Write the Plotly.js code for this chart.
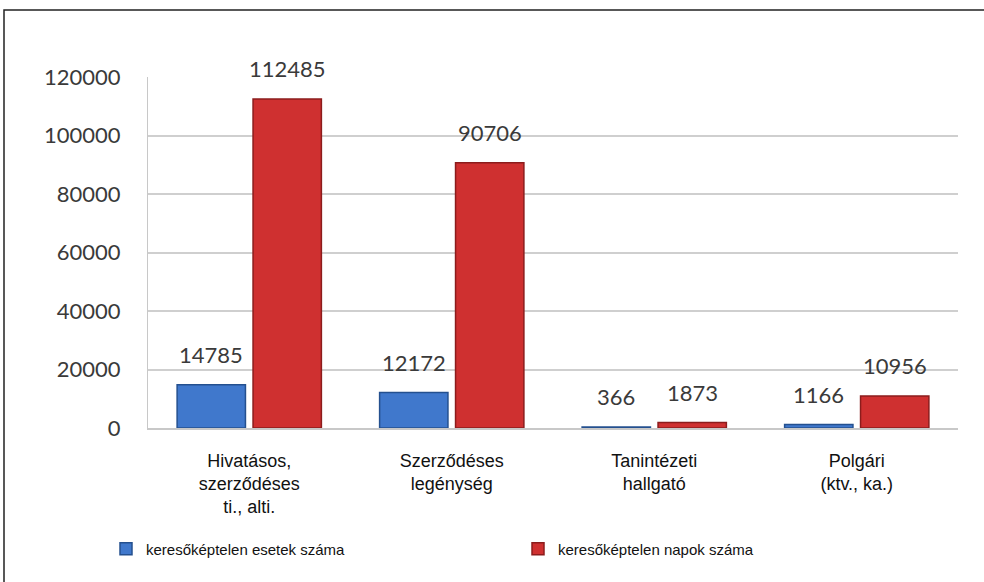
<!DOCTYPE html>
<html>
<head>
<meta charset="utf-8">
<script src="https://cdn.plot.ly/plotly-3.0.1.min.js"></script>
<style>html,body{margin:0;padding:0;background:#fff;}#chart{width:984px;height:582px;}</style>
</head>
<body>
<div id="chart"></div>
<script>
const categories = ["Hivatásos,<br>szerződéses<br>ti., alti.", "Szerződéses<br>legénység", "Tanintézeti<br>hallgató", "Polgári<br>(ktv., ka.)"];
const seriesNames = ["keresőképtelen esetek száma", "keresőképtelen napok száma"];
const esetek = [14785, 12172, 366, 1166];
const napok = [112485, 90706, 1873, 10956];
const yTicks = [0, 20000, 40000, 60000, 80000, 100000, 120000];

const W = 984, H = 582;
const m = {l: 148, r: 26, t: 77, b: 154};
const plotW = W - m.l - m.r, plotH = H - m.t - m.b;
const px = v => (v - m.l) / plotW;
const py = v => (H - m.b - v) / plotH;

const bargap = 0.25, bargroupgap = 0.1;
const slot = plotW / categories.length;
const half = slot * (1 - bargap) / 4;

const labelFont = {family: "Lato, 'Open Sans', sans-serif", size: 22, color: "#3a3a3a"};

const traces = [
  {type: "bar", name: seriesNames[0], x: categories, y: esetek,
   marker: {color: "#4078cc", line: {color: "#24508f", width: 1.5}}},
  {type: "bar", name: seriesNames[1], x: categories, y: napok,
   marker: {color: "#cf3030", line: {color: "#8c1c1c", width: 1.5}}}
];

const annotations = [];
[esetek, napok].forEach((arr, si) => {
  arr.forEach((v, i) => {
    annotations.push({x: categories[i], y: v, xref: "x", yref: "y", text: String(v),
      showarrow: false, xshift: si === 0 ? -half : half, yshift: 30,
      font: labelFont, xanchor: "center", yanchor: "middle"});
  });
});

const layout = {
  width: W, height: H,
  margin: m,
  paper_bgcolor: "#fff", plot_bgcolor: "#fff",
  barmode: "group", bargap: bargap, bargroupgap: bargroupgap,
  showlegend: true,
  legend: {orientation: "h", x: px(106), y: py(549), xanchor: "left", yanchor: "middle",
    entrywidth: 367, entrywidthmode: "pixels",
    font: {family: "'Liberation Sans', Arial, sans-serif", size: 15, color: "#111"}},
  xaxis: {type: "category", showgrid: false, showline: true, linecolor: "#c8c8c8", linewidth: 2,
    ticks: "", ticklabelstandoff: 15,
    tickfont: {family: "'Liberation Sans', Arial, sans-serif", size: 18, color: "#111"}},
  yaxis: {range: [0, 120000], tickvals: yTicks, ticktext: yTicks.map(String),
    showgrid: true, gridcolor: "#cfcfcf", gridwidth: 2, zeroline: false,
    showline: true, linecolor: "#c8c8c8", linewidth: 1, ticks: "", ticklabelstandoff: 22,
    tickfont: labelFont},
  annotations: annotations,
  shapes: [{type: "rect", xref: "paper", yref: "paper",
    x0: px(4), x1: px(995), y0: py(595), y1: py(10),
    line: {color: "#222", width: 1.5}, fillcolor: "rgba(0,0,0,0)", layer: "below"}]
};

Plotly.newPlot("chart", traces, layout, {displayModeBar: false, staticPlot: true});
</script>
</body>
</html>
